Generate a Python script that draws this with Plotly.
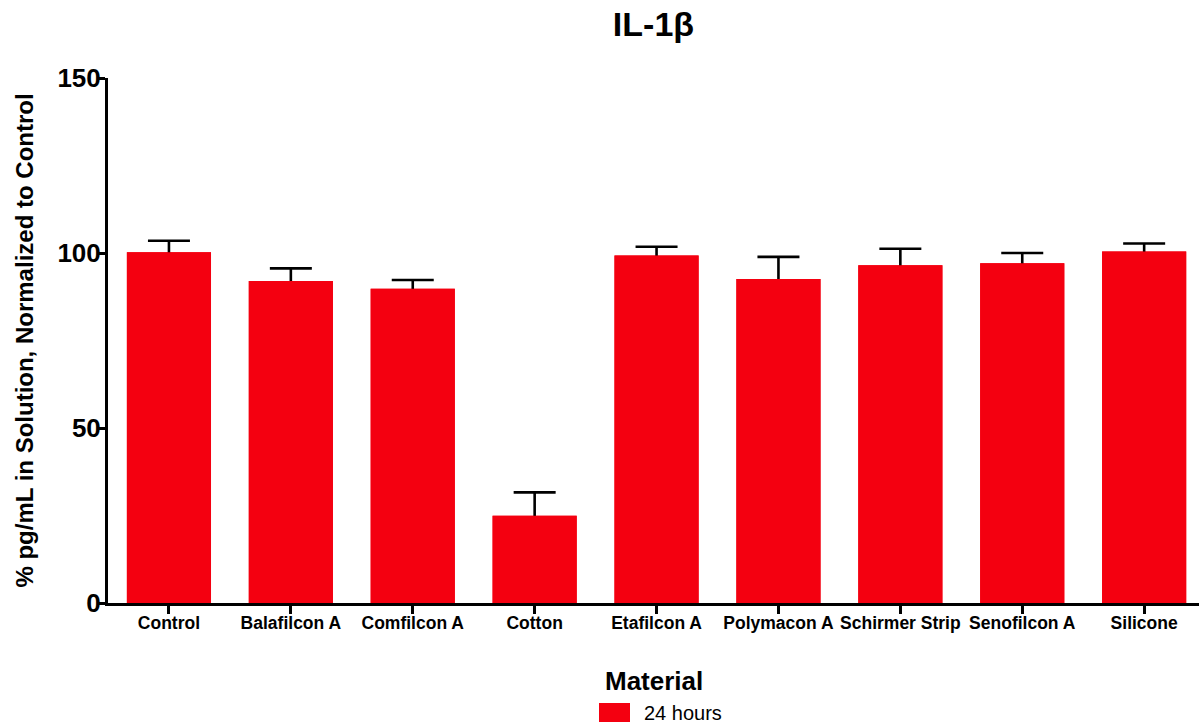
import plotly.graph_objects as go

categories = ["Control", "Balafilcon A", "Comfilcon A", "Cotton", "Etafilcon A",
              "Polymacon A", "Schirmer Strip", "Senofilcon A", "Silicone"]
values = [100.2, 92.0, 89.8, 24.9, 99.3, 92.6, 96.5, 97.1, 100.4]
errors = [3.3, 3.6, 2.5, 6.7, 2.5, 6.3, 4.7, 2.9, 2.3]
series_name = "24 hours"
legend_title = "Material"
y_ticks = [0, 50, 100, 150]

FONT = "Liberation Sans, Arial, sans-serif"
RED = "#F40010"

fig = go.Figure()
# Back trace carries the error bars; the front trace hides their lower half
fig.add_trace(go.Bar(
    x=categories, y=values, name=series_name,
    marker=dict(color=RED, line=dict(width=0)),
    error_y=dict(type="data", array=errors, symmetric=True,
                 color="black", thickness=2.6, width=21),
    showlegend=False, hoverinfo="skip",
))
fig.add_trace(go.Bar(
    x=categories, y=values, name=series_name,
    marker=dict(color=RED, line=dict(width=0)),
    showlegend=False,
))

fig.update_layout(
    width=1199, height=725,
    paper_bgcolor="white", plot_bgcolor="white",
    margin=dict(l=108, r=0, t=78, b=122),
    barmode="overlay",
    bargap=0.31,
    title=dict(text="<b>IL-1β</b>", x=0.545, xanchor="center", y=0.967, yanchor="middle",
               font=dict(family=FONT, size=34, color="black")),
    font=dict(family=FONT, color="black"),
    xaxis=dict(
        range=[-0.5, 8.45], showline=True, linecolor="black", linewidth=3,
        ticks="outside", ticklen=8, tickwidth=3, tickcolor="black",
        tickfont=dict(family=FONT, size=17.5, color="black"),
        tickvals=categories, ticktext=[f"<b>{c}</b>" for c in categories],
        ticklabelstandoff=-6,
        showgrid=False, zeroline=False,
    ),
    yaxis=dict(
        range=[0, 150], showline=True, linecolor="black", linewidth=3,
        ticks="outside", ticklen=8, tickwidth=3, tickcolor="black",
        tickvals=y_ticks, ticktext=[f"<b>{t}</b>" for t in y_ticks],
        tickfont=dict(family=FONT, size=26, color="black"),
        ticklabelstandoff=-9,
        showgrid=False, zeroline=False,
        title=dict(text="<b>% pg/mL in Solution, Normalized to Control</b>",
                   font=dict(family=FONT, size=24, color="black"), standoff=18),
    ),
)

# Legend block (title + swatch + label), below the plot
fig.add_annotation(xref="paper", yref="paper", x=0.5, y=-0.148, xanchor="center", yanchor="middle",
                   text=f"<b>{legend_title}</b>", showarrow=False,
                   font=dict(family=FONT, size=26, color="black"))
fig.add_shape(type="rect", xref="paper", yref="paper",
              x0=(599 - 108) / 1091, x1=(630 - 108) / 1091,
              y0=-(722 - 603) / 525, y1=-(703 - 603) / 525,
              fillcolor=RED, line=dict(width=0))
fig.add_annotation(xref="paper", yref="paper", x=(642 - 108) / 1091, y=-(713 - 603) / 525,
                   xanchor="left", yanchor="middle", text=series_name, showarrow=False,
                   font=dict(family=FONT, size=20, color="black"))

fig.write_html("out.html", config={"displayModeBar": False},
               post_script="document.body.style.margin='0';")
